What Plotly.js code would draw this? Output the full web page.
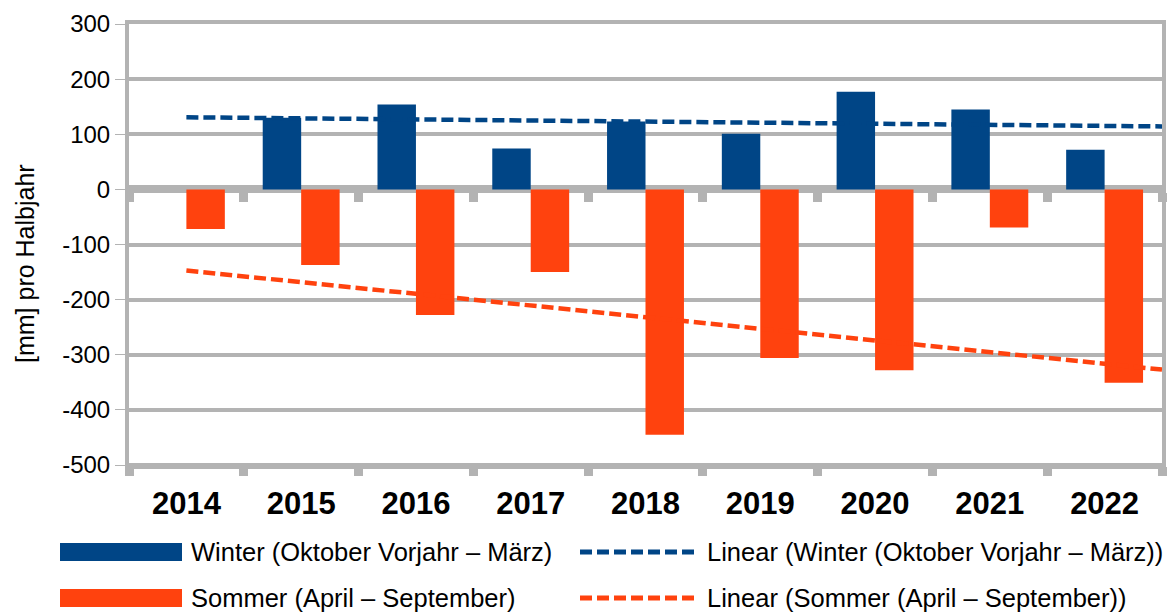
<!DOCTYPE html>
<html>
<head>
<meta charset="utf-8">
<script src="https://cdn.plot.ly/plotly-3.0.1.min.js"></script>
<style>html,body{margin:0;padding:0;background:#fff;}#chart{width:1173px;height:614px;}</style>
</head>
<body>
<div id="chart"></div>
<script>
// ---- data ----
const years = ['2014', '2015', '2016', '2017', '2018', '2019', '2020', '2021', '2022'];
const winterValues = [null, 130, 154, 74, 123, 101, 177, 145, 72];
const sommerValues = [-72, -137, -228, -150, -445, -306, -328, -69, -351];
const yTickValues = [300, 200, 100, 0, -100, -200, -300, -400, -500];
const yTickLabels = ['300', '200', '100', '0', '-100', '-200', '-300', '-400', '-500'];
const winterName = 'Winter (Oktober Vorjahr – März)';
const sommerName = 'Sommer (April – September)';
const winterTrendName = 'Linear (Winter (Oktober Vorjahr – März))';
const sommerTrendName = 'Linear (Sommer (April – September))';
const yTitle = '[mm] pro Halbjahr';

// ---- styles ----
const cWinter = '#004586';
const cSommer = '#ff420e';
const cGrid = '#b3b3b3';
const FONT = 'Liberation Sans, Arial, sans-serif';

const idx = years.map((_, i) => i);

// least squares trend line of a series (as the chart's "Linear" trend)
function linearFit(vals) {
  const pts = vals.map((v, i) => [i, v]).filter(p => p[1] !== null);
  const n = pts.length;
  const mx = pts.reduce((s, p) => s + p[0], 0) / n;
  const my = pts.reduce((s, p) => s + p[1], 0) / n;
  let sxy = 0, sxx = 0;
  pts.forEach(p => { sxy += (p[0] - mx) * (p[1] - my); sxx += (p[0] - mx) ** 2; });
  const b = sxy / sxx;
  return x => my + b * (x - mx);
}
const xRange = [-0.5, years.length - 0.5];
const trendX = [0, years.length - 0.5];
const fw = linearFit(winterValues), fs = linearFit(sommerValues);

const DASH = '12px,5px';
const traces = [
  {type: 'bar', x: idx, y: winterValues, name: winterName, marker: {color: cWinter}, showlegend: false},
  {type: 'bar', x: idx, y: sommerValues, name: sommerName, marker: {color: cSommer}, showlegend: false},
  {type: 'scatter', mode: 'lines', x: trendX, y: trendX.map(fw), name: winterTrendName,
   line: {color: cWinter, width: 4.5, dash: DASH}, showlegend: false},
  {type: 'scatter', mode: 'lines', x: trendX, y: trendX.map(fs), name: sommerTrendName,
   line: {color: cSommer, width: 4.5, dash: DASH}, showlegend: false},
  // empty helpers so the boundary-tick axes get drawn
  {type: 'scatter', mode: 'lines', x: [], y: [], xaxis: 'x2', showlegend: false, hoverinfo: 'skip'},
  {type: 'scatter', mode: 'lines', x: [], y: [], xaxis: 'x3', showlegend: false, hoverinfo: 'skip'}
];

// plot area geometry (pixels)
const W = 1173, H = 614, L = 129, R = 11, T = 24, B = 149;
const PW = W - L - R, PH = H - T - B;
const px = x => (x - L) / PW;
const py = y => (H - B - y) / PH;

const yMin = -500, yMax = 300;
const boundaryAxis = {
  overlaying: 'x', range: xRange, anchor: 'free', showline: true, linecolor: cGrid,
  tickmode: 'linear', tick0: -0.5, dtick: 1, ticks: 'outside', ticklen: 9, tickwidth: 9,
  tickcolor: cGrid, showticklabels: false, showgrid: false, zeroline: false, side: 'bottom',
  layer: 'below traces'
};

const legendRows = [
  {y: 552, items: [
    {kind: 'bar', color: cWinter, text: winterName, x0: 60, x1: 182, tx: 189},
    {kind: 'line', color: cWinter, text: winterTrendName, x0: 580, x1: 697, tx: 705}]},
  {y: 598, items: [
    {kind: 'bar', color: cSommer, text: sommerName, x0: 60, x1: 182, tx: 189},
    {kind: 'line', color: cSommer, text: sommerTrendName, x0: 580, x1: 697, tx: 705}]}
];
const shapes = [], annotations = [];
legendRows.forEach(row => row.items.forEach(it => {
  if (it.kind === 'bar') {
    shapes.push({type: 'rect', xref: 'paper', yref: 'paper', x0: px(it.x0), x1: px(it.x1),
      y0: py(row.y + 9), y1: py(row.y - 9), fillcolor: it.color, line: {width: 0}});
  } else {
    shapes.push({type: 'line', xref: 'paper', yref: 'paper', x0: px(it.x0), x1: px(it.x1),
      y0: py(row.y), y1: py(row.y), line: {color: it.color, width: 5, dash: DASH}});
  }
  annotations.push({xref: 'paper', yref: 'paper', x: px(it.tx), y: py(row.y), xanchor: 'left',
    yanchor: 'middle', showarrow: false, text: it.text, font: {family: FONT, size: 25.5, color: '#000'}});
}));
// y axis title (placed as in the reference, slightly below the plot centre)
annotations.push({xref: 'paper', yref: 'paper', x: px(25), y: py(264), xanchor: 'center',
  yanchor: 'middle', showarrow: false, textangle: -90, text: yTitle,
  font: {family: FONT, size: 25, color: '#000'}});

const layout = {
  width: W, height: H,
  margin: {l: L, r: R, t: T, b: B},
  paper_bgcolor: '#fff', plot_bgcolor: '#fff',
  barmode: 'group', bargap: 0.33, bargroupgap: 0,
  showlegend: false,
  font: {family: FONT, color: '#000'},
  xaxis: {
    range: xRange, tickmode: 'array', tickvals: idx, ticktext: years,
    ticks: '', showline: true, mirror: true, linecolor: cGrid, linewidth: 4,
    showgrid: false, zeroline: false, ticklabelstandoff: 8,
    tickfont: {family: FONT, size: 31, color: '#000', weight: 'bold'}
  },
  xaxis2: Object.assign({}, boundaryAxis, {position: (0 - yMin) / (yMax - yMin), linewidth: 8}),
  xaxis3: Object.assign({}, boundaryAxis, {position: 0, linewidth: 4}),
  yaxis: {
    range: [yMin, yMax], tickmode: 'array', tickvals: yTickValues, ticktext: yTickLabels,
    ticks: 'outside', ticklen: 10, tickwidth: 1, tickcolor: cGrid,
    showline: true, mirror: true, linecolor: cGrid, linewidth: 4,
    showgrid: true, gridcolor: cGrid, gridwidth: 4, zeroline: false,
    tickfont: {family: FONT, size: 24, color: '#000'}
  },
  shapes: shapes,
  annotations: annotations
};

Plotly.newPlot('chart', traces, layout, {displayModeBar: false, staticPlot: true});
</script>
</body>
</html>
